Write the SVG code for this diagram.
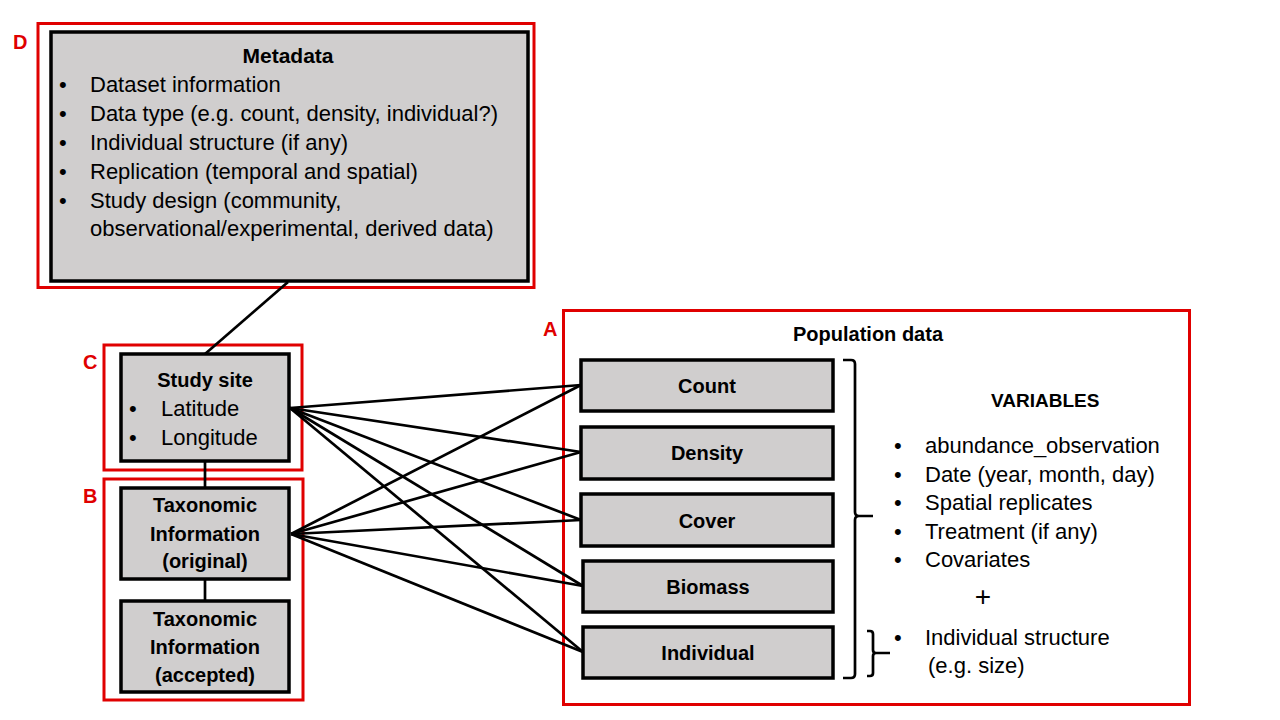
<svg xmlns="http://www.w3.org/2000/svg" width="1280" height="720" viewBox="0 0 1280 720">
<style>
  .red { fill: none; stroke: #E00000; stroke-width: 3; }
  .box { fill: #D0CECE; stroke: #000; stroke-width: 3.5; }
  .lbl { font-family: "Liberation Sans", Arial, sans-serif; font-weight: bold; font-size: 20px; fill: #E00000; }
  .b { font-family: "Liberation Sans", Arial, sans-serif; font-weight: bold; font-size: 20px; fill: #000; }
  .t { font-family: "Liberation Sans", Arial, sans-serif; font-size: 22px; fill: #000; }
  .c { text-anchor: middle; }
  .conn line, .conn path { stroke: #000; stroke-width: 2.7; fill: none; }
</style>
<rect width="1280" height="720" fill="#fff"/>

<g id="group-D">
  <rect class="red" x="38" y="23.5" width="496" height="264"/>
  <text class="lbl" x="13" y="49">D</text>
</g>
<g id="group-C">
  <rect class="red" x="104" y="345" width="198" height="125"/>
  <text class="lbl" x="83" y="369">C</text>
</g>
<g id="group-B">
  <rect class="red" x="104" y="479" width="199" height="221"/>
  <text class="lbl" x="83" y="503">B</text>
</g>
<g id="group-A">
  <rect class="red" x="563.5" y="310.5" width="626" height="394"/>
  <text class="lbl" x="543" y="336">A</text>
  <text class="b c" x="868" y="341">Population data</text>
</g>

<g class="conn" id="connectors">
  <line x1="288" y1="282" x2="205" y2="354"/>
  <line x1="205" y1="461" x2="205" y2="488"/>
  <line x1="205" y1="579" x2="205" y2="601"/>
  <line x1="290" y1="408" x2="581" y2="385"/>
  <line x1="290" y1="408" x2="581" y2="452"/>
  <line x1="290" y1="408" x2="581" y2="520"/>
  <line x1="290" y1="408" x2="583" y2="586"/>
  <line x1="290" y1="408" x2="583" y2="652"/>
  <line x1="291" y1="534" x2="581" y2="385"/>
  <line x1="291" y1="534" x2="581" y2="452"/>
  <line x1="291" y1="534" x2="581" y2="520"/>
  <line x1="291" y1="534" x2="583" y2="586"/>
  <line x1="291" y1="534" x2="583" y2="652"/>
  <path d="M843,360 L851,360 Q855,360 855,364 L855,512 Q855,516 859,516 L873,516 M859,516 Q855,516 855,520 L855,674 Q855,678 851,678 L843,678"/>
  <path d="M867,631 L870,631 Q873,631 873,634 L873,650 Q873,653 876,653 L890,653 M876,653 Q873,653 873,656 L873,673 Q873,676 870,676 L867,676"/>
</g>

<g id="metadata">
  <rect class="box" x="51" y="32" width="477" height="249"/>
  <text class="b c" x="288" y="63" style="font-size:21px">Metadata</text>
  <g class="t">
    <text x="59" y="92">•</text><text x="90" y="92">Dataset information</text>
    <text x="59" y="121">•</text><text x="90" y="121">Data type (e.g. count, density, individual?)</text>
    <text x="59" y="150">•</text><text x="90" y="150">Individual structure (if any)</text>
    <text x="59" y="179">•</text><text x="90" y="179">Replication (temporal and spatial)</text>
    <text x="59" y="207.5">•</text><text x="90" y="207.5">Study design (community,</text>
    <text x="90" y="236">observational/experimental, derived data)</text>
  </g>
</g>

<g id="study-site">
  <rect class="box" x="121" y="354" width="168" height="107"/>
  <text class="b c" x="205" y="387">Study site</text>
  <text class="t" x="129" y="416">•</text><text class="t" x="161" y="416">Latitude</text>
  <text class="t" x="129" y="444.5">•</text><text class="t" x="161" y="444.5">Longitude</text>
</g>

<g id="tax-original">
  <rect class="box" x="121" y="488" width="168" height="91"/>
  <text class="b c" x="205" y="512">Taxonomic</text>
  <text class="b c" x="205" y="541">Information</text>
  <text class="b c" x="205" y="568">(original)</text>
</g>

<g id="tax-accepted">
  <rect class="box" x="121" y="601" width="168" height="91"/>
  <text class="b c" x="205" y="625.5">Taxonomic</text>
  <text class="b c" x="205" y="654">Information</text>
  <text class="b c" x="205" y="681.5">(accepted)</text>
</g>

<g id="count">
  <rect class="box" x="581" y="360" width="252" height="51"/>
  <text class="b c" x="707" y="393">Count</text>
</g>
<g id="density">
  <rect class="box" x="581" y="427" width="252" height="52"/>
  <text class="b c" x="707" y="460">Density</text>
</g>
<g id="cover">
  <rect class="box" x="581" y="494" width="252" height="52"/>
  <text class="b c" x="707" y="527.5">Cover</text>
</g>
<g id="biomass">
  <rect class="box" x="583" y="561" width="250" height="51"/>
  <text class="b c" x="708" y="593.5">Biomass</text>
</g>
<g id="individual">
  <rect class="box" x="583" y="627" width="250" height="51"/>
  <text class="b c" x="708" y="659.5">Individual</text>
</g>

<g id="variables">
  <text class="b" x="991" y="407" style="font-size:19px">VARIABLES</text>
  <g class="t">
    <text x="894" y="452.5">•</text><text x="925" y="452.5">abundance_observation</text>
    <text x="894" y="481.5">•</text><text x="925" y="481.5">Date (year, month, day)</text>
    <text x="894" y="510">•</text><text x="925" y="510">Spatial replicates</text>
    <text x="894" y="539">•</text><text x="925" y="539">Treatment (if any)</text>
    <text x="894" y="567">•</text><text x="925" y="567">Covariates</text>
    <text x="983" y="606" text-anchor="middle" style="font-size:28px">+</text>
    <text x="894" y="645">•</text><text x="925" y="645">Individual structure</text>
    <text x="928" y="673">(e.g. size)</text>
  </g>
</g>
</svg>
